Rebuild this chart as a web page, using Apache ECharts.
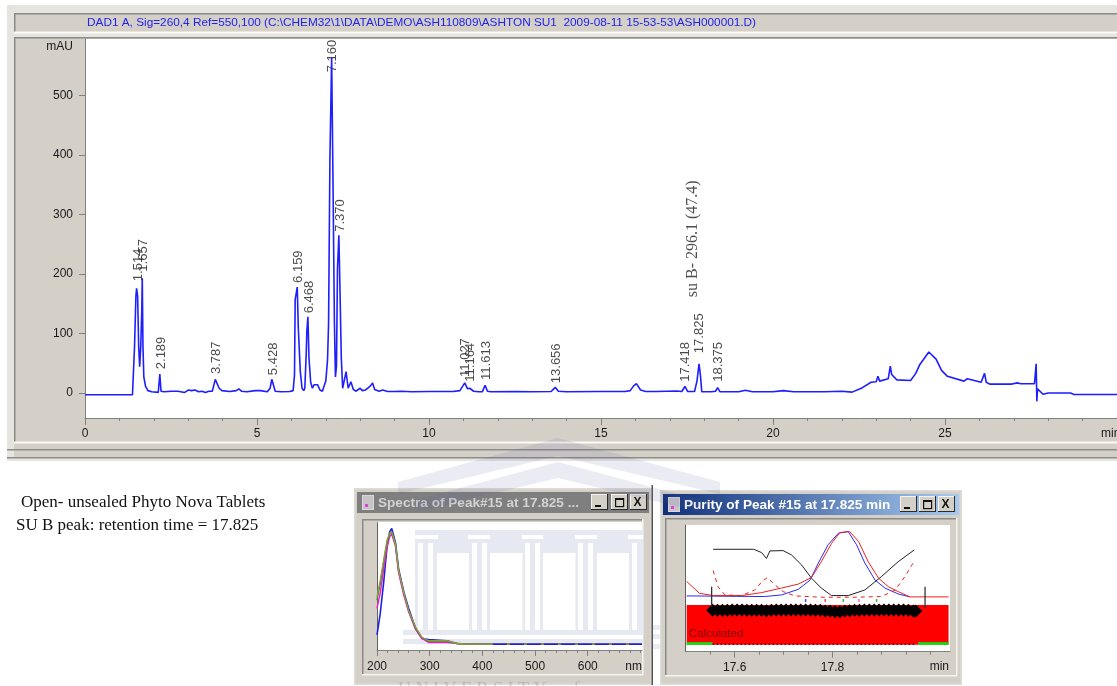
<!DOCTYPE html>
<html><head><meta charset="utf-8">
<style>html,body{margin:0;padding:0;background:#fff;overflow:hidden}#c{width:1117px;height:686px;filter:blur(.35px)}</style>
<script src="https://cdn.jsdelivr.net/npm/echarts@6/dist/echarts.min.js"></script>
</head><body><div id="c"></div>
<script>
// ---------- main chromatogram: [time, mAU] ----------
const trace = [[0,-3],[1.38,-3],[1.4,-2],[1.44,78],[1.48,163],[1.5,176],[1.53,163],[1.56,78],[1.59,44],[1.62,78],[1.65,136],[1.665,193],[1.685,78],[1.71,27],[1.76,11],[1.83,4],[1.94,2],[2.13,1],[2.17,3],[2.175,32],[2.2,32],[2.21,3],[2.3,2],[2.5,3],[2.55,1],[2.7,3],[2.75,1],[2.9,1],[3.0,5],[3.1,4],[3.2,5],[3.3,2],[3.4,3],[3.5,1],[3.6,3],[3.7,3],[3.74,12],[3.787,23],[3.84,20],[3.9,8],[3.98,4],[4.2,2.5],[4.4,4],[4.47,7],[4.55,3],[4.7,2],[4.75,5],[4.95,4],[5.0,5],[5.1,4],[5.3,2],[5.38,8],[5.43,23],[5.48,13],[5.53,3],[5.7,2],[5.95,2.5],[6.05,4],[6.09,30],[6.11,157],[6.17,178],[6.2,110],[6.26,35],[6.31,8],[6.36,4],[6.39,8],[6.43,65],[6.45,105],[6.48,128],[6.51,60],[6.56,18],[6.61,8],[6.66,14],[6.71,12],[6.76,14],[6.83,5],[6.9,3],[6.95,4],[7.0,20],[7.05,55],[7.08,115],[7.12,395],[7.17,564],[7.21,350],[7.25,120],[7.28,27],[7.31,45],[7.34,210],[7.38,265],[7.41,180],[7.45,60],[7.49,8],[7.54,10],[7.59,36],[7.65,8],[7.73,19],[7.8,6],[7.87,3],[8.0,8],[8.06,4],[8.15,5],[8.3,12],[8.36,17],[8.42,6],[8.55,3],[8.65,5],[8.8,2.5],[9.0,2.5],[9.2,3],[9.5,2],[10.0,2.5],[10.7,2.5],[10.9,4],[11.04,17],[11.12,7],[11.18,8],[11.3,3],[11.45,2],[11.55,2],[11.63,13],[11.7,3],[11.8,2],[12.5,2.5],[13.0,2],[13.55,2.5],[13.67,9.5],[13.76,3],[14.0,2],[15.0,2.5],[15.7,2.5],[15.85,4],[15.95,12],[16.03,15.7],[16.15,5],[16.3,2.5],[16.6,2.5],[17.2,3.5],[17.35,2.5],[17.44,11],[17.52,2.5],[17.72,2.5],[17.79,20],[17.85,49],[17.89,30],[17.93,2],[18.2,2],[18.33,3],[18.39,9],[18.46,2],[19.0,2],[19.2,4.5],[19.4,2],[20.0,2],[20.3,4],[20.6,2],[21.5,2],[22.0,3],[22.3,1.5],[22.6,9],[22.85,18],[23.0,19],[23.05,28],[23.1,20],[23.35,24],[23.41,45],[23.45,31],[23.6,22],[24.0,21],[24.15,33],[24.27,48],[24.53,69],[24.74,57],[24.9,38],[25.07,28],[25.55,20],[25.65,24],[26.05,18],[26.15,33],[26.2,18],[26.3,15],[26.95,15],[27.1,17],[27.2,15.5],[27.6,15.5],[27.65,49],[27.67,-14],[27.69,7],[27.72,4],[27.85,-2],[28.0,0],[28.65,0],[28.75,-2.5],[30,-2.5]];
const peakLabels = ["1.514","1.657","2.189","3.787","5.428","6.159","6.468","7.160","7.370","11.027","11.164","11.613","13.656","17.418","17.825","18.375"];
const peakLabelBase = [188,204,40,32,30,185,134,539,271,27,19,22,16.5,19,67,19];
const sampleNote = "su B- 296.1 (47.4)";
const yMajorTicks = [0,100,200,300,400,500];
const yMinorTicks = [-40,-20,0,20,40,60,80,100,120,140,160,180,200,220,240,260,280,300,320,340,360,380,400,420,440,460,480,500,520,540,560,580];
const xMajorTicks = [0,5,10,15,20,25];
const xMinorTicks = [1,2,3,4,6,7,8,9,11,12,13,14,16,17,18,19,21,22,23,24,26,27,28,29];
// ---------- spectra window ----------
const specWave = [200,206,213,219,224,228,235,241,251,260,273,285,298,333,352,377,420,703];
const specBlue = [8,26,55,84,97,100,88,65,45,31,14,5,4,3,0.6,0,0,0];
const specMagenta = [31,44,66,84,93,95,85,62,42,28,13,5,1.5,1.5,0.6,0,0,0];
const specGreen = [38,52,72,88,95,97,86,64,44,29,14,6,2.5,2.5,0.6,0,0,0];
const specOlive = [41,55,74,90,96,97,87,64,44,29,15,6,3,3,0.6,0,0,0];
const specTicks = [200,300,400,500,600];
const specMinor = [220,240,260,280,320,340,360,380,420,440,460,480,520,540,560,580,620,640,660,680,700];
// ---------- purity window ----------
const purityBlack = [[17.556,73],[17.639,73],[17.655,68],[17.665,59],[17.672,70.5],[17.699,71],[17.716,64.5],[17.737,49],[17.757,29],[17.777,14],[17.798,2.5],[17.832,2.5],[17.866,11],[17.9,31.5],[17.934,54],[17.967,72]];
const purityRed = [[17.502,24],[17.528,6],[17.556,2.5],[17.614,2.5],[17.655,7],[17.696,14],[17.73,20],[17.757,30],[17.777,54],[17.798,82],[17.815,98.5],[17.835,100],[17.853,85],[17.873,54],[17.894,29],[17.914,16],[17.934,8.6],[17.958,0.5],[18.037,0.5]];
const purityBlue = [[17.502,2],[17.661,1],[17.696,3.5],[17.73,12],[17.754,26],[17.771,52],[17.791,80],[17.812,97.5],[17.832,100],[17.849,80],[17.866,52],[17.887,26],[17.907,14],[17.934,5],[17.958,0.5]];
const purityDash = [[17.556,40.6],[17.566,16],[17.58,3.5],[17.614,2.5],[17.641,11],[17.656,24],[17.667,30],[17.682,19],[17.699,8.6],[17.723,2],[17.777,0],[17.846,0],[17.9,1],[17.928,11],[17.948,31.5],[17.967,55]];
const purityMarkTimes = [17.555,17.565,17.575,17.585,17.595,17.605,17.615,17.625,17.635,17.645,17.655,17.665,17.675,17.685,17.695,17.705,17.715,17.725,17.735,17.745,17.755,17.765,17.775,17.785,17.795,17.805,17.815,17.825,17.835,17.845,17.855,17.865,17.875,17.885,17.895,17.905,17.915,17.925,17.935,17.945,17.955,17.965,17.97];
const purityMarkValues = [-20,-20,-20,-20,-19.5,-19.5,-19.5,-20,-20,-20,-20,-20.5,-20,-19.5,-19.5,-19.5,-19.5,-19.5,-19.5,-19.5,-19.5,-20,-20,-21,-21,-22,-22,-21,-20.5,-20,-20,-19.5,-19.5,-19.5,-19.5,-19.5,-19.5,-19.5,-19.5,-19.5,-20,-21,-21];
const purityTicks = [17.6,17.8];
const purityMinor = [17.55,17.65,17.7,17.75,17.85,17.9,17.95,18];
const puritySpotTimes = [17.745,17.785,17.822,17.854,17.89];
const puritySpotColors = ['#1a1ae6','#e02020','#10a010','#e040e0','#10a010'];

const SANS = '"Liberation Sans", Arial, sans-serif', SERIF = '"Liberation Serif", serif';
const PANEL = '#d4d0c8', DARK = '#8a8a86', BLUE = '#1e1eff';
const els = [];
const R = (x,y,w,h,fill,z=-3) => els.push({type:'rect',z,silent:true,shape:{x,y,width:w,height:h},style:{fill}});
const T = (x,y,text,o={},z=5) => els.push({type:'text',z,silent:true,x,y,style:{text,font:o.font||('12px '+SANS),fill:o.fill||'#1a1a1a',textAlign:o.align||'left',textVerticalAlign:'middle'}});
function bevel(x,y,w,h){ R(x,y,w,h,PANEL); R(x,y,w,1.5,DARK,-2); R(x,y,1.5,h,DARK,-2); R(x,y+h-1.5,w,2,'#fbfaf6',-2); }

// main frame
R(7,5,1110,456,'#e6e4df',-4);
bevel(14,13,1104,20);
bevel(14,37,1104,406);
R(14,443,1104,15,PANEL);
R(7,449,1110,1.6,'#8c8c88',-2);
R(7,457,1110,1.6,'#8c8c88',-2);
R(85,39,1033,379,'#ffffff',-1);
T(87,23,'DAD1 A, Sig=260,4 Ref=550,100 (C:\\CHEM32\\1\\DATA\\DEMO\\ASH110809\\ASHTON SU1  2009-08-11 15-53-53\\ASH000001.D)',{fill:'#2222f0',font:'11.8px '+SANS});
T(73,47,'mAU',{align:'right'});
T(1101,434,'min');

// note text
T(21,503,'Open- unsealed Phyto Nova Tablets',{font:'17px '+SERIF,fill:'#111'});
T(16,526,'SU B peak: retention time = 17.825',{font:'17px '+SERIF,fill:'#111'});

// window helper
function win(x,y,w,h,titleFill,titleColor,title,ix,iy,iw,ih,px,py,pw,ph,btnX){
  R(x,y,w,h,'#dedcd6',-4);
  R(x+1.5,y+1.5,w-3,h-3,PANEL,-4);
  R(x+3,y+4,w-6,21,titleFill,-3);
  R(ix,iy,iw,ih,PANEL,-3); R(ix,iy,iw,1.5,DARK,-2); R(ix,iy,1.5,ih,DARK,-2); R(ix,iy+ih-1,iw,1.5,'#f4f3ee',-2); R(ix+iw-1,iy,1.5,ih,'#f4f3ee',-2);
  R(px,py,pw,ph,'#ffffff',-1);
  R(x+8,y+7,12,15,'#d8d8d8',-2); R(x+9,y+8,10,13,'#c8c4c8',-2); R(x+11,y+16,3,3,'#e040e0',-2);
  T(x+24,y+15,title,{font:'bold 13.6px '+SANS,fill:titleColor});
  btnX.forEach((bx,i)=>{ R(bx,y+6,17,16,'#2a2a2a',-2); R(bx,y+6,16,15,'#f4f3ee',-2); R(bx+1,y+7,15,14,PANEL,-2);
    if(i===0){R(bx+4,y+17,6,2,'#111',-1);} if(i===1){R(bx+4,y+10,9,2,'#111',-1);R(bx+4,y+10,1.2,9,'#111',-1);R(bx+12,y+10,1.2,9,'#111',-1);R(bx+4,y+18,9,1.2,'#111',-1);}
    if(i===2){T(bx+3.5,y+14.5,'X',{font:'bold 12px '+SANS,fill:'#111'},-1);} });
}
const greyTitle = '#7f7f7f';
const blueTitle = {type:'linear',x:0,y:0,x2:1,y2:0,colorStops:[{offset:0,color:'#10307a'},{offset:1,color:'#a6caf0'}]};
win(354,488,298,197,greyTitle,'#d2d2d2','Spectra of Peak#15 at 17.825 ...',362,519,281,156,377,522,265,128,[591,611,630]);
win(660,490,302,195,blueTitle,'#ffffff','Purity of Peak #15 at 17.825 min',665,518,292,158,686,525,264,127,[900,919,938]);
R(651.5,485,1.5,200,'#555',-2);
T(642,667,'nm',{align:'right'});
T(949,667,'min',{align:'right'});
T(689,634,'Calculated',{font:'11.5px '+SANS,fill:'#7a0000'},6);

// watermark (pale building seen through the page)
const TINT = '#e6e8f2', WZ = 1, VEIL = 'rgba(90,90,160,.12)';
els.push({type:'polygon',z:8,silent:true,shape:{points:[[558,438],[720,482],[720,494],[558,456],[398,494],[398,482]]},style:{fill:VEIL}});
els.push({type:'polygon',z:8,silent:true,shape:{points:[[558,462],[700,500],[700,512],[558,478],[415,512],[415,500]]},style:{fill:VEIL}});
R(415,530,228,100,TINT,WZ-0.5);
R(403,630,240,14,TINT,WZ-0.5);
R(403,635,240,4,'#ffffff',WZ);
[[415,438],[468,490],[522,543],[575,597],[628,643]].forEach(p=>R(p[0],535,p[1]-p[0],4,'#ffffff',WZ));
[418,428,472,482,525,535,578,588,632].forEach(x=>R(x,543,5,87,'#ffffff',WZ));
[[437,469],[490,522.5],[543,575.5],[597,629]].forEach(p=>R(p[0],553,p[1]-p[0],77,'#ffffff',WZ));
R(653,625,7,5,VEIL,8); R(653,634,7,5,VEIL,8); R(653,644,7,5,VEIL,8);
T(398,690,'U N I V E R S I T Y   o f',{font:'18px '+SERIF,fill:'rgba(110,110,130,.28)'},8);

const gridMain = {left:85,top:39,width:1033,height:379};
const gridSpec = {left:377,top:522.7,width:265,height:127.3};
const gridPur = {left:685.7,top:525,width:264.3,height:126.7};
const axCol = '#808080';
const lbl = {color:'#1a1a1a',fontFamily:SANS,fontSize:12};
function xAx(grid,min,max,major,minor,mlen,margin){
  return [{type:'value',gridIndex:grid,min,max,position:'bottom',splitLine:{show:false},axisLine:{onZero:false,lineStyle:{color:axCol}},
    axisTick:{customValues:major,length:mlen,lineStyle:{color:axCol}},axisLabel:{customValues:major,margin,...lbl}},
   {type:'value',gridIndex:grid,min,max,position:'bottom',splitLine:{show:false},axisLine:{show:false,onZero:false},
    axisTick:{customValues:minor,length:3,lineStyle:{color:axCol}},axisLabel:{show:false}}];
}
const xAxes = [...xAx(0,0,30,xMajorTicks,xMinorTicks,7,10),
  ...xAx(1,200,703,specTicks,specMinor,6,11),
  ...xAx(2,17.5,18.04,purityTicks,purityMinor,6,10)];
const plainY = (g,min,max)=>({type:'value',gridIndex:g,min,max,splitLine:{show:false},axisTick:{show:false},axisLabel:{show:false},axisLine:{show:true,onZero:false,lineStyle:{color:'#606060'}}});
const yAxes = [
 {type:'value',gridIndex:0,min:-42,max:595,splitLine:{show:false},axisLine:{show:true,onZero:false,lineStyle:{color:axCol}},
  axisTick:{show:true,customValues:yMajorTicks,length:6,lineStyle:{color:axCol}},axisLabel:{customValues:yMajorTicks,margin:12,...lbl}},
 {type:'value',gridIndex:0,min:-42,max:595,splitLine:{show:false},axisLine:{show:false,onZero:false},
  axisTick:{show:true,customValues:yMinorTicks,length:3,lineStyle:{color:axCol}},axisLabel:{show:false}},
 plainY(1,-5,105), plainY(2,-83,110)];

const line=(x,y,data,color,width=1,extra={})=>({type:'line',xAxisIndex:x,yAxisIndex:y,data,symbol:'none',silent:true,animation:false,clip:true,lineStyle:{color,width,...(extra.ls||{})},...(extra.s||{})});
const zip=(a,b)=>a.map((v,i)=>[v,b[i]]);
const series = [
 line(0,0,trace,BLUE,1.6),
 {type:'scatter',xAxisIndex:0,yAxisIndex:0,symbolSize:0,silent:true,animation:false,
  data:peakLabels.map((s,i)=>({value:[Number(s),peakLabelBase[i]],name:s})),
  label:{show:true,formatter:p=>p.name,rotate:90,position:'top',distance:0,offset:[0,1.5],align:'left',verticalAlign:'middle',fontFamily:SANS,fontSize:13,color:'#1a1a1a'}},
 {type:'scatter',xAxisIndex:0,yAxisIndex:0,symbolSize:0,silent:true,animation:false,
  data:[{value:[17.68,161],name:sampleNote}],
  label:{show:true,formatter:p=>p.name,rotate:90,position:'top',distance:0,align:'left',verticalAlign:'middle',fontFamily:SERIF,fontSize:16,color:'#222'}},
 line(2,2,zip(specWave,specBlue),'#2020e0',1.6),
 line(2,2,zip(specWave,specMagenta),'#f020c0',1.5),
 line(2,2,zip(specWave,specGreen),'#209030',1.3),
 line(2,2,zip(specWave,specOlive),'#9a9a40',1.3),
 line(2,2,[[420,0],[703,0]],'#2020e0',1.4,{ls:{type:[14,3]}}),
 {type:'scatter',xAxisIndex:4,yAxisIndex:3,symbolSize:0,silent:true,animation:false,data:[[17.6,0]],
  markArea:{silent:true,itemStyle:{color:'#ff0000'},data:[[{coord:[17.502,-12]},{coord:[18.037,-72.6]}]]}},
 {type:'scatter',xAxisIndex:4,yAxisIndex:3,symbolSize:0,silent:true,animation:false,z:3,data:[[17.6,0]],
  markArea:{silent:true,itemStyle:{color:'#12e012'},data:[[{coord:[17.502,-68.5]},{coord:[17.555,-72.6]}],[{coord:[17.975,-68.5]},{coord:[18.037,-72.6]}]]}},
 line(4,3,purityMarkTimes.map(t=>[t,-71.5]),'#5a0000',1.5,{ls:{type:[1.5,2.5]},s:{z:4}}),
 {type:'line',xAxisIndex:4,yAxisIndex:3,silent:true,animation:false,z:4,data:zip(purityMarkTimes,purityMarkValues),symbol:'diamond',symbolSize:13,lineStyle:{color:'#000',width:8},itemStyle:{color:'#000'}},
 line(4,3,purityBlack,'#222',1,{s:{z:5}}),
 line(4,3,purityBlue,'#2a2af0',1,{s:{z:5}}),
 line(4,3,purityRed,'#ee2020',1,{s:{z:6}}),
 line(4,3,purityDash,'#ee2020',1,{ls:{type:[4,4]},s:{z:6}}),
 line(4,3,[[17.553,16],[17.553,-14]],'#333',1.3,{s:{z:6}}),
 line(4,3,[[17.989,16],[17.989,-17]],'#333',1.3,{s:{z:6}}),
 {type:'scatter',xAxisIndex:4,yAxisIndex:3,silent:true,animation:false,z:6,symbol:'rect',symbolSize:[1.5,3],
  data:puritySpotTimes.map((t,i)=>({value:[t,-5],itemStyle:{color:puritySpotColors[i]}}))}
];
const chart = echarts.init(document.getElementById('c'),null,{renderer:'canvas',width:1117,height:686});
chart.setOption({animation:false,backgroundColor:'#ffffff',tooltip:{show:false},
  grid:[gridMain,gridSpec,gridPur],xAxis:xAxes,yAxis:yAxes,series,graphic:{elements:els}});
</script></body></html>
